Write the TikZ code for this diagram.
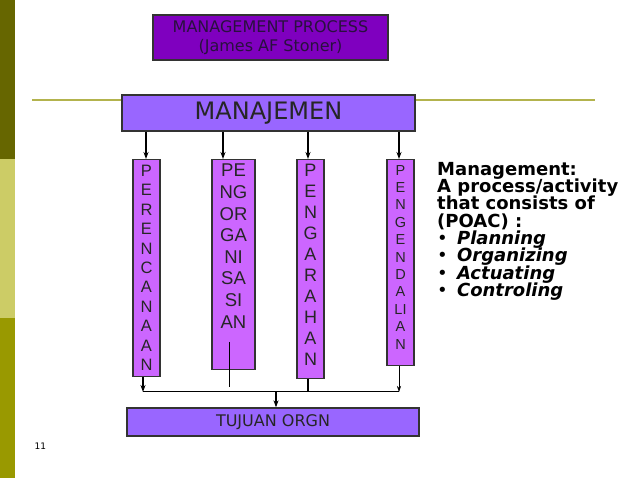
\documentclass[tikz,border=0pt]{standalone}
\usepackage{fontspec}
\setmainfont{DejaVu Sans}
\newfontfamily\arialf{Liberation Sans}
\usetikzlibrary{arrows.meta}
\definecolor{dpurple}{HTML}{7F00BF}
\definecolor{violet1}{HTML}{9966FF}
\definecolor{magv}{HTML}{CC66FF}
\definecolor{olive1}{HTML}{666600}
\definecolor{olive2}{HTML}{CCCC66}
\definecolor{olive3}{HTML}{999900}
\definecolor{oline}{HTML}{B3B34D}
\definecolor{toptext}{HTML}{2A1040}
\newcommand\tightlines{\lineskiplimit=-20pt\relax\lineskip=0pt\relax}
\begin{document}
\begin{tikzpicture}[x=1pt,y=-1pt,
  box/.style={draw=black!80,line width=1.3pt,inner sep=0pt},
  col/.style={box,fill=magv,anchor=north},
  ctext/.style={anchor=north,align=center,inner sep=0pt,text=black!85},
  arr/.style={-{Stealth[length=7pt,width=5pt]},line width=1.3pt},
  ln/.style={line width=1pt}]
\useasboundingbox (0,0) rectangle (638,478);
\fill[olive1] (0,0) rectangle (15,159);
\fill[olive2] (0,159) rectangle (15,318);
\fill[olive3] (0,318) rectangle (15,478);
\draw[oline,line width=1.5pt] (32,100) -- (595,100);
\node[box,fill=dpurple,minimum width=235pt,minimum height=45pt,align=center,text=toptext,font=\fontsize{16}{19}\selectfont] (top) at (270.5,37.5) {MANAGEMENT PROCESS\\(James AF Stoner)};
\node[box,fill=violet1,minimum width=293pt,minimum height=36pt,font=\fontsize{24}{28}\selectfont,text=black!85] (man) at (268.5,113) {MANAJEMEN};
\node[col,minimum width=27pt,minimum height=217pt] (c1) at (146.5,159) {};
\node[col,minimum width=43pt,minimum height=210pt] (c2) at (233.5,159) {};
\node[col,minimum width=27pt,minimum height=219pt] (c3) at (310.5,159) {};
\node[col,minimum width=27pt,minimum height=206pt] (c4) at (400.5,159) {};
\node[ctext,font=\arialf\fontsize{16.5}{19.4}\selectfont] (t1) at (146.5,165) {P\\E\\R\\E\\N\\C\\A\\N\\A\\A\\N};
\node[ctext,font=\arialf\fontsize{18.5}{21.6}\selectfont] (t2) at (233.5,164) {PE\\NG\\OR\\GA\\NI\\SA\\SI\\AN};
\node[ctext,font=\arialf\fontsize{18}{21}\selectfont] (t3) at (310.5,164) {P\\E\\N\\G\\A\\R\\A\\H\\A\\N};
\node[ctext,font=\arialf\fontsize{14.5}{17.4}\selectfont] (t4) at (400.5,165) {P\\E\\N\\G\\E\\N\\D\\A\\LI\\A\\N};
\node[box,fill=violet1,minimum width=292pt,minimum height=28pt,font=\fontsize{16}{18}\selectfont,text=black!85] (tuj) at (273,422) {TUJUAN ORGN};
\draw[arr] (man.south -| 146,0) -- (c1.north -| 146,0);
\draw[arr] (man.south -| 223,0) -- (c2.north -| 223,0);
\draw[arr] (man.south -| 308,0) -- (c3.north -| 308,0);
\draw[arr] (man.south -| 399,0) -- (c4.north -| 399,0);
\coordinate (j1) at (143,392); \coordinate (j4) at (399,392);
\coordinate (j3) at (308,392); \coordinate (jm) at (276,392);
\draw[arr] (c1.south -| j1) -- (j1);
\draw[ln] (j1) -- (j4);
\draw[line width=1.5pt] (c3.south -| j3) -- (j3);
\draw[-{Stealth[length=6pt,width=4pt]},line width=0.6pt] (c4.south -| j4) -- (j4);
\draw[line width=0.5pt] (229,342) -- (229,387);
\draw[arr] (jm) -- (tuj.north -| jm);
\node[anchor=west,font=\fontsize{9}{10}\selectfont] (num) at (31,446) {11};
\node[anchor=north west,align=left,font=\bfseries\fontsize{18}{17.3}\selectfont\tightlines,inner sep=0pt] (txt) at (437,162)
 {Management:\\A process/activity\\that consists of\\(POAC) :\\{\mdseries\textbullet}\, \itshape Planning\\{\mdseries\textbullet}\, \itshape Organizing\\{\mdseries\textbullet}\, \itshape Actuating\\{\mdseries\textbullet}\, \itshape Controling};
\end{tikzpicture}
\end{document}
